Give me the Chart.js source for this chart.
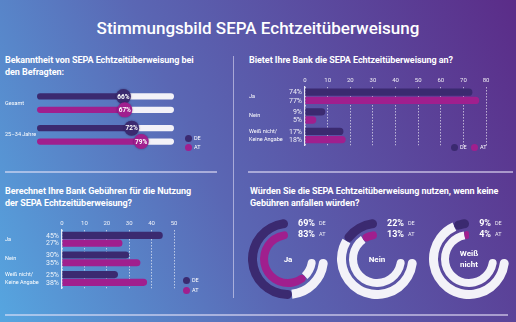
<!DOCTYPE html>
<html lang="de">
<head>
<meta charset="UTF-8">
<title>Stimmungsbild SEPA Echtzeitüberweisung</title>
<script src="https://cdn.jsdelivr.net/npm/chart.js@4.4.1/dist/chart.umd.min.js"></script>
<style>
  html, body { margin: 0; padding: 0; }
  body {
    width: 516px; height: 322px; position: relative; overflow: hidden;
    font-family: Roboto, sans-serif; color: #fff;
    background: linear-gradient(65deg, #56a6e0 0%, #5a67b4 42%, #5b2c88 100%);
  }
  h1 { position: absolute; left: 0; width: 516px; top: 20px; margin: 0; text-align: center;
       font-size: 17px; line-height: 17px; font-weight: 500; }
  .head { position: absolute; margin: 0; font-size: 9px; line-height: 12px; font-weight: 700; letter-spacing: -0.05px; }
  .line { position: absolute; background: rgba(235, 230, 250, 0.55); }
  .leg { position: absolute; font-size: 5.5px; line-height: 8px; }
  .dot { position: absolute; width: 7px; height: 7px; border-radius: 50%; }
  .pct { position: absolute; font-size: 9px; font-weight: 700; line-height: 10px; text-align: right; width: 30px; }
  .tag { position: absolute; font-size: 5.5px; line-height: 10px; opacity: 0.9; }
  .inner { position: absolute; width: 50px; text-align: center; font-size: 8px; font-weight: 700; line-height: 11px; }
  canvas { position: absolute; }
</style>
</head>
<body>
<h1>Stimmungsbild SEPA Echtzeitüberweisung</h1>

<div class="head" style="left:5px; top:54px;">Bekanntheit von SEPA Echtzeitüberweisung bei<br>den Befragten:</div>
<div class="head" style="left:249px; top:54px;">Bietet Ihre Bank die SEPA Echtzeitüberweisung an?</div>
<div class="head" style="left:5px; top:185px;">Berechnet Ihre Bank Gebühren für die Nutzung<br>der SEPA Echtzeitüberweisung?</div>
<div class="head" style="left:250px; top:185px;">Würden Sie die SEPA Echtzeitüberweisung nutzen, wenn keine<br>Gebühren anfallen würden?</div>

<!-- Trennlinien -->
<div class="line" style="left:233px; top:56px; width:1px; height:242px;"></div>
<div class="line" style="left:5px; top:171px; width:212px; height:1.5px;"></div>
<div class="line" style="left:248px; top:171px; width:265px; height:1.5px;"></div>
<div class="line" style="left:5px; top:314px; width:503px; height:1.5px;"></div>

<canvas id="known" width="230" height="76" style="left:0; top:81px;"></canvas>
<canvas id="offer" width="270" height="78" style="left:244px; top:74px;"></canvas>
<canvas id="fee" width="200" height="78" style="left:0; top:217px;"></canvas>
<div id="donuts"></div>
<div id="legends"></div>

<script>
// Farben
const DE_COLOR = '#3b2a70';
const AT_COLOR = '#a01f8e';
const TRACK = '#f3f2f8';

// Bekanntheit
const knownCategories = ['Gesamt', '25–34 Jahre'];
const knownDE = [66, 72];
const knownAT = [67, 79];

// Bietet Ihre Bank ... an?
const offerCategories = ['Ja', 'Nein', ['Weiß nicht/', 'Keine Angabe']];
const offerDE = [74, 9, 17];
const offerAT = [77, 5, 18];
const offerMax = 80;

// Berechnet Ihre Bank Gebühren?
const feeCategories = ['Ja', 'Nein', ['Weiß nicht/', 'Keine Angabe']];
const feeDE = [45, 30, 25];
const feeAT = [27, 35, 38];
const feeMax = 50;

// Würden Sie nutzen ...?
const useCategories = [['Ja'], ['Nein'], ['Weiß', 'nicht']];
const useDE = [69, 22, 9];
const useAT = [83, 13, 4];

Chart.defaults.font.family = 'Roboto, sans-serif';
Chart.defaults.color = '#ffffff';
Chart.defaults.animation = false;
Chart.defaults.plugins.legend.display = false;
Chart.defaults.plugins.tooltip.enabled = false;

// Kreis-Badges auf den Balken (Bekanntheit)
const badgePlugin = {
    id: 'badges',
    afterDatasetsDraw(chart) {
        const ctx = chart.ctx;
        [0, 2].forEach(di => {
            const ds = chart.data.datasets[di];
            chart.getDatasetMeta(di).data.forEach((bar, i) => {
                const x = bar.x - 4, y = bar.y;
                ctx.save();
                ctx.shadowColor = 'rgba(20,10,50,0.45)';
                ctx.shadowBlur = 2;
                ctx.beginPath();
                ctx.arc(x, y, 7.5, 0, Math.PI * 2);
                ctx.fillStyle = ds.backgroundColor;
                ctx.fill();
                ctx.restore();
                ctx.save();
                ctx.fillStyle = '#fff';
                ctx.font = 'bold 6.5px Roboto';
                ctx.textAlign = 'center';
                ctx.textBaseline = 'middle';
                ctx.fillText(ds.data[i] + '%', x, y + 0.5);
                ctx.restore();
            });
        });
    }
};

// Prozentwerte links neben der Achse
const valueLabels = {
    id: 'valueLabels',
    afterDatasetsDraw(chart) {
        const {ctx, chartArea} = chart;
        ctx.save();
        ctx.font = '7px Roboto';
        ctx.fillStyle = 'rgba(255,255,255,0.9)';
        ctx.textAlign = 'right';
        ctx.textBaseline = 'middle';
        chart.data.datasets.forEach((ds, di) => {
            chart.getDatasetMeta(di).data.forEach((bar, i) => {
                ctx.fillText(ds.data[i] + '%', chartArea.left - 3, bar.y + 0.5);
            });
        });
        ctx.restore();
    }
};

new Chart(document.getElementById('known'), {
    type: 'bar',
    data: {
        labels: knownCategories,
        datasets: [
            { data: knownDE, stack: 'de', backgroundColor: DE_COLOR, borderSkipped: false,
              borderRadius: { topLeft: 4, bottomLeft: 4 } },
            { data: knownDE.map(v => 100 - v), stack: 'de', backgroundColor: TRACK, borderSkipped: false,
              borderRadius: { topRight: 4, bottomRight: 4 } },
            { data: knownAT, stack: 'at', backgroundColor: AT_COLOR, borderSkipped: false,
              borderRadius: { topLeft: 4, bottomLeft: 4 } },
            { data: knownAT.map(v => 100 - v), stack: 'at', backgroundColor: TRACK, borderSkipped: false,
              borderRadius: { topRight: 4, bottomRight: 4 } }
        ]
    },
    options: {
        indexAxis: 'y',
        responsive: false,
        categoryPercentage: 0.842,
        barPercentage: 0.47,
        layout: { padding: { left: 5, right: 56, top: 0, bottom: 0 } },
        scales: {
            x: { stacked: true, min: 0, max: 100, display: false },
            y: {
                grid: { display: false }, border: { display: false },
                ticks: { crossAlign: 'far', font: { size: 5.5 } },
                afterFit: s => { s.width = 32; }
            }
        }
    },
    plugins: [badgePlugin]
});

function hbarOptions(max, yWidth, pad) {
    return {
        indexAxis: 'y',
        responsive: false,
        layout: { padding: pad },
        scales: {
            x: {
                position: 'top', min: 0, max: max,
                ticks: { stepSize: 10, padding: 2, font: { size: 6 }, color: 'rgba(255,255,255,0.9)' },
                grid: { drawTicks: false, color: 'rgba(255,255,255,0.75)', lineWidth: 0.8 },
                border: { display: false, dash: [1.5, 1.5] },
                afterFit: s => { s.height = 12.5; }
            },
            y: {
                grid: { display: false },
                border: { display: true, color: 'rgba(255,255,255,0.85)', width: 1.2 },
                ticks: { crossAlign: 'far', font: { size: 5.5, lineHeight: 1.35 } },
                afterFit: s => { s.width = yWidth; }
            }
        }
    };
}

new Chart(document.getElementById('offer'), {
    type: 'bar',
    data: {
        labels: offerCategories,
        datasets: [
            { data: offerDE, backgroundColor: DE_COLOR, borderRadius: 4, categoryPercentage: 0.837, barPercentage: 0.89 },
            { data: offerAT, backgroundColor: AT_COLOR, borderRadius: 4, categoryPercentage: 0.837, barPercentage: 0.89 }
        ]
    },
    options: hbarOptions(offerMax, 56, { left: 5, right: 28, top: 0, bottom: 1 }),
    plugins: [valueLabels]
});

new Chart(document.getElementById('fee'), {
    type: 'bar',
    data: {
        labels: feeCategories,
        datasets: [
            { data: feeDE, backgroundColor: DE_COLOR, borderRadius: 4, categoryPercentage: 0.79, barPercentage: 0.92 },
            { data: feeAT, backgroundColor: AT_COLOR, borderRadius: 4, categoryPercentage: 0.79, barPercentage: 0.92 }
        ]
    },
    options: hbarOptions(feeMax, 57, { left: 5, right: 26, top: 0, bottom: 1 }),
    plugins: [valueLabels]
});

// Ringdiagramme
const donutCenters = [288, 377, 469];
const donutBox = document.getElementById('donuts');
useCategories.forEach((cat, i) => {
    const cx = donutCenters[i];
    const cv = document.createElement('canvas');
    cv.width = 80; cv.height = 80;
    cv.style.left = (cx - 40) + 'px';
    cv.style.top = '219px';
    donutBox.appendChild(cv);

    const ring = (v, color, weight) => ({
        data: [100 - v, v],
        backgroundColor: [TRACK, color],
        weight: weight,
        borderWidth: 0,
        borderRadius: c => c.dataIndex === 0
            ? { outerStart: 5, innerStart: 5, outerEnd: 0, innerEnd: 0 }
            : 5
    });

    new Chart(cv, {
        type: 'doughnut',
        data: {
            datasets: [
                ring(useDE[i], DE_COLOR, 9),
                { data: [1], backgroundColor: ['rgba(0,0,0,0)'], weight: 3, borderWidth: 0 },
                ring(useAT[i], AT_COLOR, 8)
            ]
        },
        options: {
            responsive: false,
            rotation: 90,
            circumference: 270,
            cutout: '50%',
            hoverOffset: 0,
            layout: { padding: 0 }
        }
    });

    const right = [315, 404, 491][i];
    donutBox.insertAdjacentHTML('beforeend',
        `<div class="pct" style="left:${right - 30}px; top:218px;">${useDE[i]}%</div>` +
        `<div class="tag" style="left:${right + 4}px; top:218px;">DE</div>` +
        `<div class="pct" style="left:${right - 30}px; top:229px;">${useAT[i]}%</div>` +
        `<div class="tag" style="left:${right + 4}px; top:229px;">AT</div>` +
        `<div class="inner" style="left:${cx - 25}px; top:${259 - cat.length * 5.5}px;">${cat.join('<br>')}</div>`);
});

// Legenden
const legendSpots = [
    { de: [188, 138], at: [188, 147] },
    { de: [454, 147], at: [474, 147] },
    { de: [186, 280], at: [186, 290] }
];
const legBox = document.getElementById('legends');
legendSpots.forEach(s => {
    [['DE', DE_COLOR, s.de], ['AT', AT_COLOR, s.at]].forEach(([name, col, p]) => {
        legBox.insertAdjacentHTML('beforeend',
            `<div class="dot" style="left:${p[0] - 3.5}px; top:${p[1] - 3.5}px; background:${col};"></div>` +
            `<div class="leg" style="left:${p[0] + 6}px; top:${p[1] - 4}px;">${name}</div>`);
    });
});
</script>
</body>
</html>
